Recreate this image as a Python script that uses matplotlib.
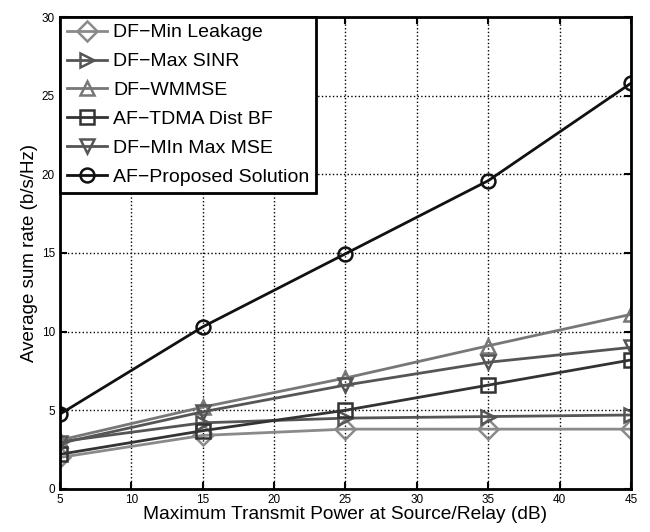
import matplotlib
matplotlib.use('Agg')
import matplotlib.pyplot as plt

plt.rcParams['font.family'] = ['Liberation Sans', 'DejaVu Sans']

power = [5, 15, 25, 35, 45]
min_leakage = [2.0, 3.4, 3.8, 3.8, 3.8]
max_sinr = [3.0, 4.2, 4.5, 4.6, 4.7]
wmmse = [3.1, 5.2, 7.05, 9.1, 11.1]
tdma_bf = [2.2, 3.7, 5.0, 6.6, 8.2]
min_max_mse = [2.9, 4.9, 6.6, 8.05, 9.0]
proposed = [4.75, 10.3, 14.95, 19.6, 25.8]

series = [
    ('DF\u2212Min Leakage', min_leakage, 'D', '#8a8a8a'),
    ('DF\u2212Max SINR', max_sinr, '>', '#555555'),
    ('DF\u2212WMMSE', wmmse, '^', '#777777'),
    ('AF\u2212TDMA Dist BF', tdma_bf, 's', '#333333'),
    ('DF\u2212MIn Max MSE', min_max_mse, 'v', '#555555'),
    ('AF\u2212Proposed Solution', proposed, 'o', '#111111'),
]

fig = plt.figure(figsize=(6.5, 5.32), dpi=100)
ax = fig.add_axes([0.092, 0.081, 0.879, 0.887])

for label, vals, mk, col in series:
    ax.plot(power, vals, marker=mk, color=col, linewidth=2, markersize=10,
            markerfacecolor='none', markeredgewidth=1.8, label=label)

ax.set_xlim(5, 45)
ax.set_ylim(0, 30)
ax.set_xticks([5, 10, 15, 20, 25, 30, 35, 40, 45])
ax.set_yticks([0, 5, 10, 15, 20, 25, 30])
ax.grid(True, linestyle=':', color='black', linewidth=1)
ax.tick_params(direction='in', labelsize=8.5, width=1.5, length=5, top=True, right=True)
for s in ax.spines.values():
    s.set_linewidth(2)

ax.set_xlabel('Maximum Transmit Power at Source/Relay (dB)', fontsize=13.8, labelpad=0)
ax.set_ylabel('Average sum rate (b/s/Hz)', fontsize=13.5, labelpad=3)

leg = ax.legend(loc='upper left', fontsize=14, fancybox=False, framealpha=1,
                edgecolor='black', borderaxespad=0, handlelength=2.1,
                labelspacing=0.58, borderpad=0.35, handletextpad=0.3)
leg.get_frame().set_linewidth(2)

fig.savefig('out.png', dpi=100)
